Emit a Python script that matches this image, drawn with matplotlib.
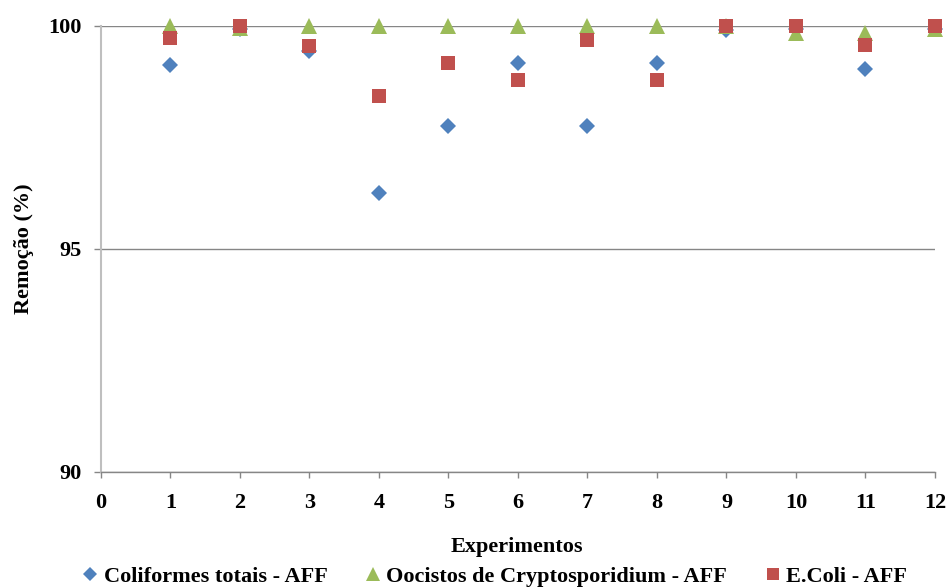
import matplotlib
matplotlib.use('Agg')
import matplotlib.pyplot as plt
from matplotlib.lines import Line2D

plt.rcParams['font.family'] = ['Liberation Serif', 'DejaVu Serif']
plt.rcParams['font.weight'] = 'bold'

# Remoção por experimento (%)
experimentos = [1, 2, 3, 4, 5, 6, 7, 8, 9, 10, 11, 12]
coliformes = [99.13, 99.93, 99.44, 96.26, 97.76, 99.17, 97.76, 99.17, 99.91, 99.93, 99.04, 99.93]
cryptosporidium = [100.0, 99.96, 100.0, 100.0, 100.0, 100.0, 100.0, 100.0, 100.0, 99.84, 99.84, 99.93]
ecoli = [99.73, 100.0, 99.55, 98.43, 99.17, 98.79, 99.69, 98.79, 100.0, 100.0, 99.57, 100.0]

labels = ['Coliformes totais - AFF', 'Oocistos de Cryptosporidium - AFF', 'E.Coli - AFF']
colors = ['#4F81BD', '#9BBB59', '#C0504D']

fs = 16

fig = plt.figure(figsize=(9.49, 5.88), dpi=100)
ax = fig.add_axes([0.1064, 0.1973, 0.8788, 0.7585])

ax.plot(experimentos, coliformes, linestyle='none', marker='D', ms=8.6,
        mew=0, color=colors[0], clip_on=False, zorder=3)
ax.plot(experimentos, cryptosporidium, linestyle='none', marker='^', ms=11.5,
        mew=0, color=colors[1], clip_on=False, zorder=4)
ax.plot(experimentos, ecoli, linestyle='none', marker='s', ms=10.5,
        mew=0, color=colors[2], clip_on=False, zorder=5)

ax.set_xlim(0, 12)
ax.set_ylim(90, 100)
ax.set_xticks(range(0, 13))
ax.set_yticks([90, 95, 100])

# horizontal gridlines only
ax.yaxis.grid(True, color='#868686', linewidth=1.0)
ax.set_axisbelow(True)

for side in ['top', 'right']:
    ax.spines[side].set_visible(False)
ax.spines['left'].set_color('#BFBFBF')
ax.spines['left'].set_linewidth(1.5)
ax.spines['bottom'].set_color('#868686')
ax.spines['bottom'].set_linewidth(1.0)

ax.tick_params(axis='x', direction='out', length=4.3, width=1.0, color='#868686',
               pad=11, labelsize=fs)
ax.tick_params(axis='y', direction='out', length=5, width=1.0, color='#868686',
               pad=9, labelsize=fs)
for lab in ax.get_xticklabels() + ax.get_yticklabels():
    lab.set_fontweight('bold')

fig.text(0.025, 0.577, 'Remoção (%)', rotation=90, ha='center', va='center',
         fontsize=fs, fontweight='bold')
fig.text(0.545, 0.069, 'Experimentos', ha='center', va='center',
         fontsize=fs, fontweight='bold')

handles = [
    Line2D([], [], linestyle='none', marker='D', ms=7, mew=0, color=colors[0]),
    Line2D([], [], linestyle='none', marker='^', ms=10, mew=0, color=colors[1]),
    Line2D([], [], linestyle='none', marker='s', ms=8.5, mew=0, color=colors[2]),
]
fig.legend(handles, labels, loc='center', bbox_to_anchor=(0.522, 0.019), ncol=3,
           frameon=False, handlelength=0.6, handletextpad=0.3, columnspacing=1.75,
           prop={'size': fs, 'weight': 'bold'})

fig.savefig('out.png', dpi=100, facecolor='white')
